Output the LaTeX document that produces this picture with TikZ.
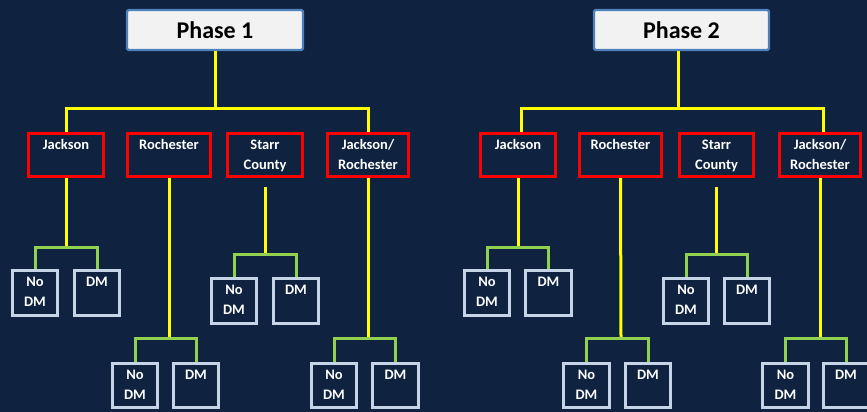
\documentclass[tikz,border=0pt]{standalone}
\usepackage{fontspec}
\setmainfont{Carlito}
\usetikzlibrary{calc}
\definecolor{navy}{RGB}{15,35,64}
\definecolor{phasefill}{RGB}{242,242,242}
\definecolor{phaseedge}{RGB}{79,129,189}
\definecolor{armedge}{RGB}{198,212,232}
\definecolor{trunkcol}{RGB}{255,255,0}
\definecolor{branchcol}{RGB}{146,208,80}
\begin{document}
\begin{tikzpicture}[x=1pt,y=-1pt,
  phasebox/.style={draw=phaseedge, fill=phasefill, line width=2.2pt, rounded corners=1.5pt,
    minimum width=#1, minimum height=40pt, inner sep=0pt,
    font=\fontsize{24}{28}\selectfont\bfseries, text=black},
  sitebox/.style={draw=red, line width=3.2pt, minimum width=#1, minimum height=43pt, inner sep=0pt},
  armbox/.style={draw=armedge, line width=2.7pt, minimum width=45.5pt, minimum height=#1, inner sep=0pt},
  boxtext/.style={font=\fontsize{14.5}{20}\selectfont\bfseries, text=white, align=center,
    inner sep=0pt, anchor=north, yshift=#1},
  trunk/.style={draw=trunkcol, line width=3pt},
  branch/.style={draw=branchcol, line width=3pt}]

% background and frame
\fill[navy] (0,0) rectangle (867,412);
\useasboundingbox (0,0) rectangle (867,412);
\clip (0,0) rectangle (867,412);

% ---------------- Phase 1 ----------------
\node[phasebox=176pt] (ph1) at (215,30) {Phase 1};

\node[sitebox=75pt, label={[boxtext=-7.5pt]north:Jackson}]            (j1) at (66,155) {};
\node[sitebox=83pt, label={[boxtext=-7.5pt]north:Rochester}]          (r1) at (169,155) {};
\node[sitebox=75pt, label={[boxtext=-7.5pt]north:{Starr\\County}}]    (s1) at (265,155) {};
\node[sitebox=81pt, label={[boxtext=-7.5pt]north:{Jackson/\\Rochester}}] (jr1) at (368,155) {};

\node[armbox=45.5pt, label={[boxtext=-8pt]north:{No\\DM}}] (j1n) at (35,293) {};
\node[armbox=45.5pt, label={[boxtext=-8pt]north:DM}]       (j1d) at (97,293) {};
\node[armbox=44.5pt, label={[boxtext=-8pt]north:{No\\DM}}] (r1n) at (135,385.5) {};
\node[armbox=44.5pt, label={[boxtext=-8pt]north:DM}]       (r1d) at (196,385.5) {};
\node[armbox=45.5pt, label={[boxtext=-8pt]north:{No\\DM}}] (s1n) at (234,301) {};
\node[armbox=45.5pt, label={[boxtext=-8pt]north:DM}]       (s1d) at (296,301) {};
\node[armbox=44.5pt, label={[boxtext=-8pt]north:{No\\DM}}] (jr1n) at (334,385.5) {};
\node[armbox=44.5pt, label={[boxtext=-8pt]north:DM}]       (jr1d) at (395.5,385.5) {};

\coordinate (hub1) at (215,108);
\draw[trunk] (ph1.south) -- (hub1);
\draw[trunk] (j1.north) |- (hub1) -| (jr1.north);

\coordinate (fj1) at (66,247);
\coordinate (fr1) at (169,338);
\coordinate (fs1) at (265,254);
\coordinate (fjr1) at (368,338);
\draw[trunk] (j1.south) -- (fj1);
\draw[trunk] (r1.south) -- (fr1);
\draw[trunk] ([yshift=-9pt]s1.south) -- (fs1);
\draw[trunk] (jr1.south) -- (fjr1);
\draw[branch] (j1n.north) |- (fj1) -| (j1d.north);
\draw[branch] (r1n.north) |- (fr1) -| (r1d.north);
\draw[branch] (s1n.north) |- (fs1) -| (s1d.north);
\draw[branch] (jr1n.north) |- (fjr1) -| (jr1d.north);

% ---------------- Phase 2 ----------------
\node[phasebox=175pt] (ph2) at (681.5,30) {Phase 2};

\node[sitebox=75pt, label={[boxtext=-7.5pt]north:Jackson}]            (j2) at (518,155) {};
\node[sitebox=82pt, label={[boxtext=-7.5pt]north:Rochester}]          (r2) at (620.5,155) {};
\node[sitebox=74pt, label={[boxtext=-7.5pt]north:{Starr\\County}}]    (s2) at (716.5,155) {};
\node[sitebox=81pt, label={[boxtext=-7.5pt]north:{Jackson/\\Rochester}}] (jr2) at (820,155) {};

\node[armbox=45.5pt, label={[boxtext=-8pt]north:{No\\DM}}] (j2n) at (487,293) {};
\node[armbox=45.5pt, label={[boxtext=-8pt]north:DM}]       (j2d) at (548.5,293) {};
\node[armbox=44.5pt, label={[boxtext=-8pt]north:{No\\DM}}] (r2n) at (586.5,385.5) {};
\node[armbox=44.5pt, label={[boxtext=-8pt]north:DM}]       (r2d) at (648,385.5) {};
\node[armbox=45.5pt, label={[boxtext=-8pt]north:{No\\DM}}] (s2n) at (686,301) {};
\node[armbox=45.5pt, label={[boxtext=-8pt]north:DM}]       (s2d) at (747,301) {};
\node[armbox=44.5pt, label={[boxtext=-8pt]north:{No\\DM}}] (jr2n) at (785.5,385.5) {};
\node[armbox=44.5pt, label={[boxtext=-8pt]north:DM}]       (jr2d) at (846,385.5) {};

\coordinate (hub2) at (678,108);
\draw[trunk] (ph2.south -| hub2) -- (hub2);
\draw[trunk] ([xshift=3pt]j2.north) |- (hub2) -| ([xshift=3pt]jr2.north);

\coordinate (fj2) at (518,247);
\coordinate (fr2) at (621,338);
\coordinate (fs2) at (716.5,254);
\coordinate (fjr2) at (820,338);
\draw[trunk] (j2.south) -- (fj2);
\draw[trunk] (r2.south) -- (fr2);
\draw[trunk] ([yshift=-9pt]s2.south) -- (fs2);
\draw[trunk] (jr2.south) -- (fjr2);
\draw[branch] (j2n.north) |- (fj2) -| (j2d.north);
\draw[branch] (r2n.north) |- (fr2) -| (r2d.north);
\draw[branch] (s2n.north) |- (fs2) -| (s2d.north);
\draw[branch] (jr2n.north) |- (fjr2) -| (jr2d.north);
\end{tikzpicture}
\end{document}
